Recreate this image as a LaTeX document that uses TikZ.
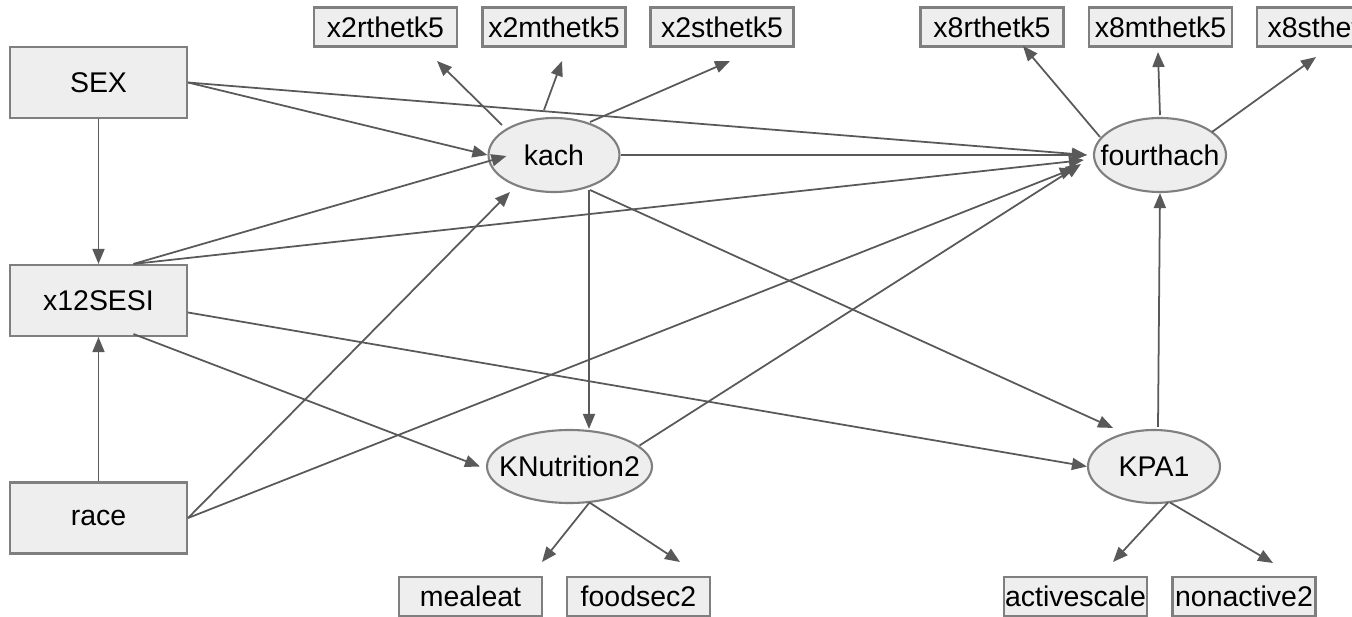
\documentclass[tikz,border=0pt]{standalone}
\usepackage{fontspec}
\setmainfont{Liberation Sans}
\usetikzlibrary{arrows.meta,calc,shapes.geometric}
\definecolor{boxfill}{HTML}{EEEEEE}
\definecolor{boxline}{HTML}{7F7F7F}
\definecolor{arrline}{HTML}{595959}
\begin{document}
\begin{tikzpicture}[x=0.1mm,y=-0.1mm,
    font=\fontsize{8.1}{10}\selectfont,
    obsbig/.style={draw=boxline, fill=boxfill, line width=0.6pt, minimum width=17.7mm, minimum height=7.1mm, inner sep=0pt},
    obssmall/.style={draw=boxline, fill=boxfill, line width=0.6pt, minimum width=14.3mm, minimum height=3.9mm, inner sep=0pt},
    latent/.style={ellipse, draw=boxline, fill=boxfill, line width=0.6pt, minimum width=13.1mm, minimum height=7.4mm, inner sep=0pt},
    every edge/.style={draw=arrline, line width=0.5pt, -{Triangle[length=1.5mm, width=1.2mm]}}]
    \clip (0,0) rectangle (1352,617);

    % exogenous boxes
    \node[obsbig] (sex) at (98.5,82.5) {SEX};
    \node[obsbig] (x12sesi) at (98.5,300.5) {x12SESI};
    \node[obsbig] (race) at (98.5,518) {race};

    % latent variables
    \node[latent] (kach) at (554,155) {kach};
    \node[latent, minimum width=13.2mm, inner xsep=-1.28mm] (fourth) at (1160,155) {fourthach};
    \node[latent, minimum width=16.5mm, minimum height=7.3mm, inner xsep=-1.24mm] (knut) at (569.5,466.5) {KNutrition2};
    \node[latent, minimum width=13.2mm, minimum height=7.3mm] (kpa) at (1154,466.5) {KPA1};

    % indicators
    \node[obssmall] (x2r) at (385.5,27) {x2rthetk5};
    \node[obssmall] (x2m) at (554,27) {x2mthetk5};
    \node[obssmall] (x2s) at (722,27) {x2sthetk5};
    \node[obssmall] (x8r) at (992,27) {x8rthetk5};
    \node[obssmall] (x8m) at (1160.5,27) {x8mthetk5};
    \node[obssmall] (x8s) at (1328.5,27) {x8sthetk5};
    \node[obssmall] (meal) at (470.5,596.5) {mealeat};
    \node[obssmall] (food) at (638.5,596.5) {foodsec2};
    \node[obssmall] (active) at (1075.5,596.5) {activescale};
    \node[obssmall] (nonact) at (1244,596.5) {nonactive2};

    % free ends of the loadings
    \coordinate (tx2r) at (437,61);
    \coordinate (tx2m) at (562,61);
    \coordinate (tx2s) at (730,61);
    \coordinate (tx8r) at (1023,46);
    \coordinate (tx8m) at (1158,52);
    \coordinate (tx8s) at (1316,57);
    \coordinate (tmeal) at (542,562);
    \coordinate (tfood) at (680,562);
    \coordinate (tactive) at (1113,562);
    \coordinate (tnonact) at (1273,563);

    \path (sex) edge (x12sesi);
    \path (race) edge (x12sesi);
    \path (sex.east) edge (kach.west);
    \path (sex.east) edge ($(fourth.west)+(-6,0)$);
    \path (kach) edge ($(fourth.west)+(-6,0)$);
    \path ($(x12sesi.north)+(35,0)$) edge ($(kach.west)+(19,1)$);
    \path ($(x12sesi.north)+(35,0)$) edge ($(fourth.west)+(-9,5)$);
    \path ($(x12sesi.east)+(0,12)$) edge (kpa.west);
    \path ($(x12sesi.south)+(35,-3)$) edge ($(knut.west)+(-6,0)$);
    \path (race.east) edge ($(kach.center)+(-44,37)$);
    \path (race.east) edge ($(fourth.west)+(-18,13)$);
    \path ($(kach.center)+(35,35)$) edge ($(knut.north)+(19.5,0)$);
    \path ($(kach.center)+(36,35)$) edge ($(kpa.north)+(-41,-1)$);
    \path ($(knut.center)+(70,-21)$) edge ($(fourth.west)+(-12,9)$);
    \path ($(kpa.north)+(4,-2)$) edge (fourth.south);

    \path ($(kach.center)+(-52,-30)$) edge (tx2r);
    \path ($(kach.center)+(-10,-45)$) edge (tx2m);
    \path ($(kach.center)+(36,-33)$) edge (tx2s);
    \path ($(fourth.center)+(-60,-18)$) edge (tx8r);
    \path ($(fourth.center)+(0,-40)$) edge (tx8m);
    \path ($(fourth.center)+(52,-23)$) edge (tx8s);
    \path ($(knut.center)+(20,36)$) edge (tmeal);
    \path ($(knut.center)+(20,36)$) edge (tfood);
    \path ($(kpa.center)+(14,36)$) edge (tactive);
    \path ($(kpa.center)+(16,36)$) edge (tnonact);
\end{tikzpicture}
\end{document}
